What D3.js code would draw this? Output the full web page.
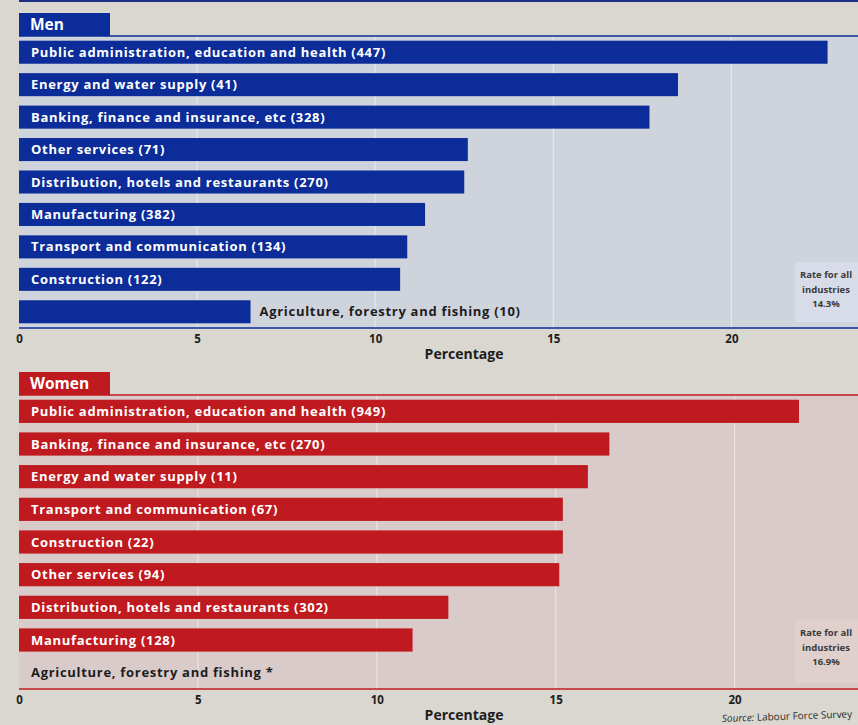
<!DOCTYPE html>
<html>
<head>
<meta charset="utf-8">
<script src="https://cdn.jsdelivr.net/npm/d3@7"></script>
<style>
  html, body { margin: 0; padding: 0; background: #d9d7d0; }
  svg { display: block; }
  text { font-family: "Open Sans", Lato, sans-serif; }
</style>
</head>
<body>
<svg id="chart" width="858" height="725"></svg>
<script>
// Unemployment rate by industry, percentage (sample size in brackets)
const menIndustries = [
  "Public administration, education and health",
  "Energy and water supply",
  "Banking, finance and insurance, etc",
  "Other services",
  "Distribution, hotels and restaurants",
  "Manufacturing",
  "Transport and communication",
  "Construction",
  "Agriculture, forestry and fishing"
];
const menRates  = [22.7, 18.5, 17.7, 12.6, 12.5, 11.4, 10.9, 10.7, 6.5];
const menCounts = ["447", "41", "328", "71", "270", "382", "134", "122", "10"];

const womenIndustries = [
  "Public administration, education and health",
  "Banking, finance and insurance, etc",
  "Energy and water supply",
  "Transport and communication",
  "Construction",
  "Other services",
  "Distribution, hotels and restaurants",
  "Manufacturing",
  "Agriculture, forestry and fishing"
];
const womenRates  = [21.8, 16.5, 15.9, 15.2, 15.2, 15.1, 12.0, 11.0, null];
const womenCounts = ["949", "270", "11", "67", "22", "94", "302", "128", null];

const tickValues = [0, 5, 10, 15, 20];
const axisTitle = "Percentage";
const allIndustryRate = { men: "14.3%", women: "16.9%" };

const svg = d3.select("#chart");
const W = 858;

// edge of the preceding page element
svg.append("rect").attr("x", 19).attr("y", 0).attr("width", W - 19).attr("height", 2)
  .attr("fill", "#1b2f8a");

function panel(cfg) {
  const g = svg.append("g");
  const x = d3.scaleLinear().domain([0, 20]).range([19, cfg.x20]);
  const y = d3.scaleBand().domain(cfg.cats).range([cfg.top, cfg.bottom])
    .paddingInner(0.29).paddingOuter(0.145);

  // panel background
  g.append("rect").attr("x", 19).attr("y", cfg.top).attr("width", W - 19)
    .attr("height", cfg.bottom - cfg.top).attr("fill", cfg.bg);

  // summary box at the right
  g.append("rect").attr("x", 795).attr("y", cfg.boxTop).attr("width", W - 795)
    .attr("height", cfg.bottom - cfg.boxTop - 6).attr("fill", cfg.boxBg);
  const bt = g.append("text").attr("text-anchor", "middle")
    .attr("font-size", 9.5).attr("font-weight", 700).attr("fill", "#3a3a3a");
  ["Rate for all", "industries", cfg.rate].forEach((s, i) => {
    bt.append("tspan").attr("x", 826).attr("y", cfg.boxText + i * 14.5).text(s);
  });

  // gridlines
  g.append("g").selectAll("line").data(tickValues.slice(1)).join("line")
    .attr("x1", d => x(d)).attr("x2", d => x(d))
    .attr("y1", cfg.top).attr("y2", cfg.bottom)
    .attr("stroke", "#ffffff").attr("stroke-opacity", 0.45).attr("stroke-width", 1.2);

  // header tab
  g.append("rect").attr("x", 19).attr("y", cfg.top - 23).attr("width", 91).attr("height", 23)
    .attr("fill", cfg.color);
  g.append("text").attr("x", 30).attr("y", cfg.top - 6).attr("font-size", 15.5)
    .attr("font-weight", 700).attr("fill", "#ffffff").text(cfg.title);

  // top and bottom rules
  [cfg.top, cfg.bottom].forEach(v => {
    g.append("line").attr("x1", 19).attr("x2", W).attr("y1", v).attr("y2", v)
      .attr("stroke", cfg.color).attr("stroke-width", 1.5);
  });

  const rows = cfg.cats.map((c, i) => ({ c, v: cfg.vals[i], n: cfg.counts[i] }));

  // bars
  g.append("g").selectAll("rect").data(rows.filter(d => d.v != null)).join("rect")
    .attr("x", x(0)).attr("y", d => y(d.c))
    .attr("width", d => x(d.v) - x(0)).attr("height", y.bandwidth())
    .attr("fill", cfg.color);

  // labels: inside the bar when it fits, otherwise after it
  g.append("g").selectAll("text").data(rows).join("text")
    .attr("y", d => y(d.c) + y.bandwidth() / 2 + 4.5)
    .attr("font-size", 13).attr("font-weight", 700).attr("letter-spacing", 0.7)
    .each(function (d) {
      const label = d.n == null ? d.c + " *" : d.c + " (" + d.n + ")";
      const t = d3.select(this).text(label);
      const inside = d.v != null && t.node().getComputedTextLength() + 24 < x(d.v) - x(0);
      if (inside) t.attr("x", 31).attr("fill", "#ffffff");
      else t.attr("x", d.v == null ? 31 : x(d.v) + 9).attr("fill", "#1d1d1d");
    });

  // axis
  const axis = d3.axisBottom(x).tickValues(tickValues).tickSize(0).tickPadding(0);
  const ag = g.append("g").attr("transform", `translate(0,${cfg.bottom + 15})`).call(axis);
  ag.select(".domain").remove();
  ag.selectAll("text").attr("font-size", 11.5).attr("font-weight", 700)
    .attr("fill", "#1d1d1d").attr("font-family", "'Open Sans', sans-serif").attr("dy", 0);

  g.append("text").attr("x", 464).attr("y", cfg.bottom + 31).attr("text-anchor", "middle")
    .attr("font-size", 14).attr("font-weight", 700).attr("fill", "#1d1d1d").text(axisTitle);
}

panel({
  title: "Men", cats: menIndustries, vals: menRates, counts: menCounts,
  top: 36, bottom: 328, x20: 731.4,
  color: "#0b2c99", bg: "#cfd3dc", boxBg: "#d8dce8",
  boxTop: 262, boxText: 278, rate: allIndustryRate.men
});

panel({
  title: "Women", cats: womenIndustries, vals: womenRates, counts: womenCounts,
  top: 395, bottom: 689, x20: 734.6,
  color: "#bf1a1f", bg: "#d9cbc9", boxBg: "#e0d0cd",
  boxTop: 620, boxText: 636, rate: allIndustryRate.women
});

// source note
svg.append("text").attr("transform", "translate(722,722) rotate(-2)")
  .attr("font-size", 10).attr("fill", "#2a2a2a")
  .html('<tspan font-style="italic">Source:</tspan> Labour Force Survey');
</script>
</body>
</html>
